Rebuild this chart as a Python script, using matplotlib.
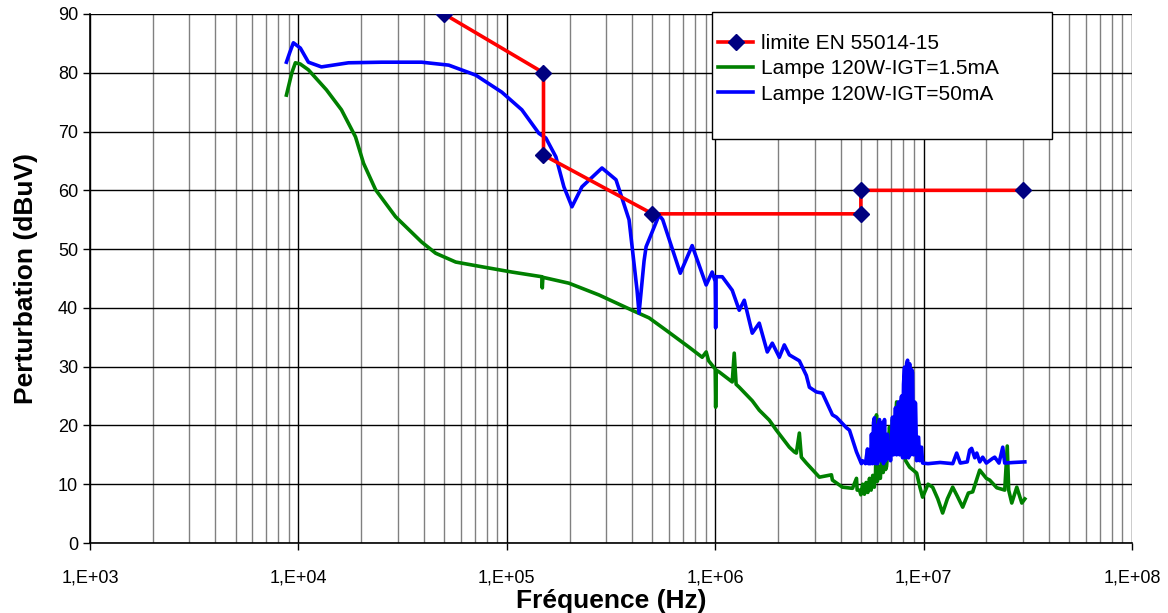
import matplotlib.pyplot as plt
from matplotlib.patches import Rectangle
from matplotlib.ticker import LogLocator, FixedLocator, NullFormatter

plt.rcParams['font.family'] = ['Liberation Sans', 'DejaVu Sans']

# limite EN 55014-15
f_lim = [5e4, 1.5e5, 1.5e5, 5e5, 5e6, 5e6, 3e7]
v_lim = [90, 80, 66, 56, 56, 60, 60]

# Lampe 120W - IGT = 1.5 mA
f_green = [8.76e3, 9.3e3, 9.67e3, 1.02e4, 1.117e4, 1.363e4, 1.609e4, 1.879e4,
           2.054e4, 2.346e4, 2.927e4, 3.903e4, 4.557e4, 5.686e4, 7.582e4,
           1.057e5, 1.473e5, 1.48e5, 1.49e5, 1.987e5, 2.769e5, 3.99e5,
           4.816e5, 5.812e5, 7.499e5, 8.66e5, 9.05e5, 9.3e5, 1.0e6, 1.005e6,
           1.011e6, 1.045e6, 1.207e6, 1.234e6, 1.26e6, 1.304e6, 1.506e6,
           1.627e6, 1.818e6, 1.965e6, 2.269e6, 2.398e6, 2.451e6, 2.534e6,
           2.591e6, 2.738e6, 3.162e6, 3.612e6, 3.652e6, 4.08e6, 4.557e6,
           4.764e6, 4.8e6, 4.924e6, 5.0e6, 5.1e6, 5.2e6, 5.3e6, 5.4e6,
           5.5e6, 5.6e6, 5.7e6, 5.8e6, 5.88e6, 5.94e6, 6.0e6, 6.1e6, 6.2e6,
           6.3e6, 6.4e6, 6.5e6, 6.57e6, 6.64e6, 6.86e6, 7.0e6, 7.09e6,
           7.25e6, 7.42e6, 7.6e6, 7.93e6, 8.2e6, 8.57e6, 9.26e6, 9.6e6,
           9.89e6, 1.05e7, 1.105e7, 1.17e7, 1.234e7, 1.3e7, 1.379e7, 1.45e7,
           1.54e7, 1.64e7, 1.72e7, 1.859e7, 2.0e7, 2.076e7, 2.244e7, 2.451e7,
           2.52e7, 2.56e7, 2.649e7, 2.8e7, 2.96e7, 3.06e7]
v_green = [76.2, 80.0, 81.7, 81.5, 80.5, 77.1, 73.7, 69.1,
           64.6, 60.1, 55.5, 51.2, 49.3, 47.8, 47.0,
           46.1, 45.3, 43.4, 45.2, 44.2, 42.2, 39.6,
           38.3, 36.2, 33.3, 31.6, 32.5, 31.0, 29.6, 23.1,
           29.4, 29.1, 27.4, 32.3, 27.0, 26.5, 24.2,
           22.6, 20.9, 19.2, 16.3, 15.5, 15.3, 18.7,
           14.6, 13.6, 11.2, 11.6, 10.7, 9.5, 9.3,
           11.0, 9.0, 9.0, 8.2, 10.0, 8.3, 10.3, 8.6,
           11.0, 9.0, 11.5, 9.5, 12.0, 21.8, 10.5, 13.0, 11.0,
           15.0, 12.0, 17.5, 12.5, 13.0, 19.7, 17.0, 21.0,
           18.0, 24.0, 19.0, 17.5, 14.0, 12.9, 11.9, 9.5,
           7.8, 10.0, 9.5, 7.5, 5.1, 7.5, 9.5, 8.0,
           6.1, 8.5, 8.7, 12.4, 11.0, 10.7, 9.4, 9.0,
           16.5, 9.0, 6.8, 9.5, 6.8, 7.5]

# Lampe 120W - IGT = 50 mA
f_blue = [8.76e3, 9.1e3, 9.46e3, 1.022e4, 1.117e4, 1.29e4, 1.74e4, 2.506e4,
          3.903e4, 5.263e4, 7.096e4, 9.462e4, 1.181e5, 1.425e5, 1.54e5,
          1.72e5, 1.879e5, 2.054e5, 2.294e5, 2.862e5, 3.342e5, 3.86e5,
          4.217e5, 4.311e5, 4.557e5, 4.66e5, 5.38e5, 5.6e5, 6.8e5, 7.752e5,
          9.05e5, 9.67e5, 1.0e6, 1.005e6, 1.01e6, 1.081e6, 1.207e6, 1.304e6,
          1.379e6, 1.506e6, 1.627e6, 1.778e6, 1.879e6, 2.031e6, 2.146e6,
          2.269e6, 2.534e6, 2.738e6, 2.831e6, 3.059e6, 3.269e6, 3.652e6,
          3.818e6, 4.264e6, 4.408e6, 4.764e6, 5.03e6,
          5.09e6, 5.26e6, 5.38e6, 5.44e6, 5.56e6, 5.62e6, 5.69e6, 5.75e6,
          5.81e6, 5.88e6, 5.94e6, 6.01e6, 6.07e6, 6.14e6, 6.21e6, 6.35e6,
          6.42e6, 6.49e6, 6.57e6, 6.71e6, 6.79e6, 6.86e6, 6.94e6, 7.09e6,
          7.17e6, 7.25e6, 7.33e6, 7.42e6, 7.5e6, 7.58e6, 7.67e6, 7.75e6,
          7.84e6, 7.93e6, 8.01e6, 8.1e6, 8.19e6, 8.29e6, 8.38e6, 8.47e6,
          8.57e6, 8.66e6, 8.76e6, 8.85e6, 8.95e6, 9.05e6, 9.15e6, 9.26e6,
          9.36e6, 9.46e6, 9.57e6, 9.67e6, 9.78e6, 9.89e6,
          1.05e7, 1.2e7, 1.38e7, 1.441e7, 1.5e7, 1.62e7, 1.664e7, 1.7e7,
          1.76e7, 1.8e7, 1.86e7, 1.921e7, 2.0e7, 2.146e7, 2.194e7, 2.3e7,
          2.398e7, 2.45e7, 2.7e7, 3.06e7]
v_blue = [81.8, 83.5, 85.1, 84.2, 81.8, 81.0, 81.7, 81.8,
          81.8, 81.3, 79.6, 76.7, 73.7, 69.7, 68.9,
          65.7, 60.6, 57.2, 60.6, 63.8, 61.8, 55.0,
          43.0, 39.1, 48.0, 50.4, 55.8, 55.0, 45.9, 50.6,
          43.9, 46.1, 44.5, 36.6, 45.3, 45.3, 43.0, 39.6,
          41.3, 35.7, 37.4, 32.5, 34.0, 31.6, 33.7,
          32.0, 31.0, 28.5, 26.5, 25.7, 25.5, 21.8,
          21.4, 19.6, 19.2, 15.5, 13.5,
          14.0, 13.5, 16.0, 13.5, 13.5, 18.5, 13.5, 20.5,
          21.3, 13.5, 20.0, 13.5, 19.5, 21.0, 14.0, 20.5,
          13.5, 21.0, 14.0, 18.5, 14.5, 17.0, 14.0, 21.4,
          15.0, 19.0, 23.0, 15.0, 22.0, 24.0, 15.0, 23.5,
          25.0, 14.5, 27.0, 29.9, 14.5, 30.5, 31.1, 14.5,
          30.5, 15.0, 29.5, 29.0, 15.0, 24.0, 23.8, 14.0,
          18.0, 18.0, 14.0, 16.0, 16.3, 13.6,
          13.5, 13.7, 13.5, 15.3, 13.6, 13.8, 15.8, 16.1,
          14.5, 15.3, 13.8, 14.6, 13.6, 14.4, 14.6, 13.6,
          16.3, 13.6, 13.7, 13.8]

fig = plt.figure(figsize=(11.68, 6.13), dpi=100)
ax = fig.add_axes([90 / 1168, 1 - 543 / 613, 1042 / 1168, 529 / 613])

ax.plot(f_green, v_green, color='#008000', lw=2.6, label='Lampe 120W-IGT=1.5mA', zorder=3)
ax.plot(f_blue, v_blue, color='#0000ff', lw=2.6, label='Lampe 120W-IGT=50mA', zorder=4)
ax.plot(f_lim, v_lim, color='#ff0000', lw=2.6, marker='D', markersize=8,
        markerfacecolor='#000080', markeredgecolor='#000080',
        label='limite EN 55014-15', zorder=5)

ax.set_xscale('log')
ax.set_xlim(1e3, 1e8)
ax.set_ylim(0, 90)
ax.set_yticks(range(0, 91, 10))
ax.xaxis.set_major_locator(FixedLocator([1e3, 1e4, 1e5, 1e6, 1e7, 1e8]))
ax.set_xticklabels(['1,E+03', '1,E+04', '1,E+05', '1,E+06', '1,E+07', '1,E+08'])
ax.xaxis.set_minor_locator(LogLocator(base=10, subs=range(2, 10), numticks=20))
ax.xaxis.set_minor_formatter(NullFormatter())
ax.tick_params(axis='x', which='minor', length=0)
ax.tick_params(axis='both', which='major', direction='out', length=5,
               width=1, labelsize=13, colors='black')
ax.tick_params(axis='x', pad=14)

ax.grid(True, which='major', axis='x', color='black', lw=1)
ax.grid(True, which='minor', axis='x', color='#808080', lw=1)
ax.grid(True, which='major', axis='y', color='black', lw=1)
ax.set_axisbelow(True)

for s in ['top', 'right']:
    ax.spines[s].set_visible(False)
for s in ['left', 'bottom']:
    ax.spines[s].set_color('black')
    ax.spines[s].set_linewidth(1.2)

ax.set_xlabel('Fréquence (Hz)', fontsize=19, fontweight='bold', labelpad=2)
ax.set_ylabel('Perturbation (dBuV)', fontsize=19, fontweight='bold', labelpad=14)

# legend box with blank space underneath, as in the original
box = Rectangle((0.597, 0.764), 0.326, 0.24, transform=ax.transAxes,
                facecolor='white', edgecolor='black', lw=1, clip_on=False, zorder=6)
ax.add_patch(box)
handles, labels = ax.get_legend_handles_labels()
order = [2, 0, 1]
leg = ax.legend([handles[i] for i in order], [labels[i] for i in order],
                loc='upper left', bbox_to_anchor=(0.6027, 0.962),
                frameon=False, fontsize=15, handlelength=1.7,
                handletextpad=0.35, labelspacing=0.3, borderpad=0,
                borderaxespad=0)
leg.set_zorder(7)

fig.savefig('out.png', dpi=100)
